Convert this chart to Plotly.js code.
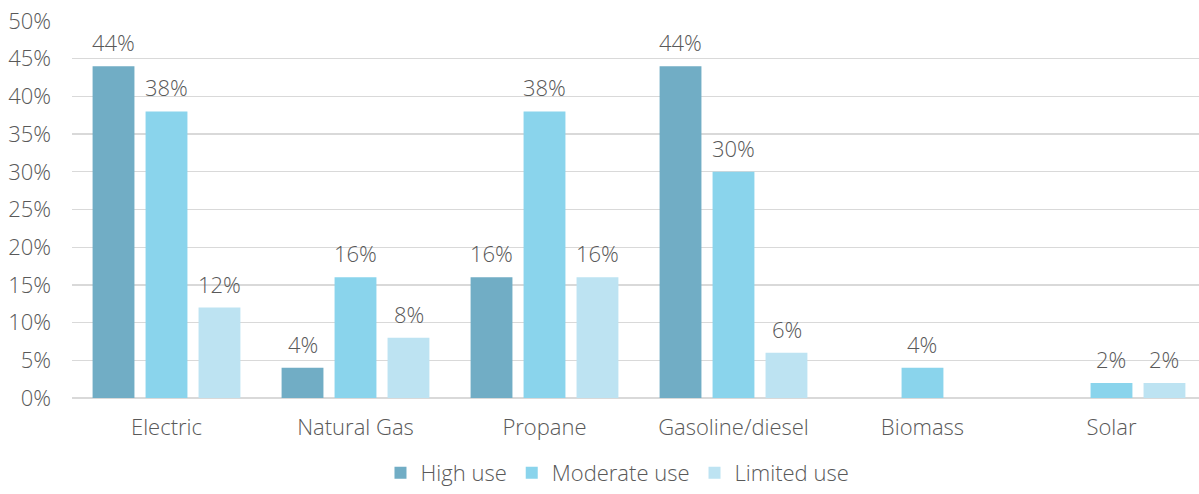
<!DOCTYPE html>
<html>
<head>
<meta charset="utf-8">
<script src="https://cdn.plot.ly/plotly-3.0.1.min.js"></script>
<style>
  html, body { margin: 0; padding: 0; background: #ffffff; }
  #chart { width: 1199px; height: 494px; }
</style>
</head>
<body>
<div id="chart"></div>
<script>
// Energy sources and the share of respondents at each level of use (%)
const categories = ['Electric', 'Natural Gas', 'Propane', 'Gasoline/diesel', 'Biomass', 'Solar'];
const highUse = [44, 4, 16, 44, 0, 0];
const moderateUse = [38, 16, 38, 30, 4, 2];
const limitedUse = [12, 8, 16, 6, 0, 2];
const seriesNames = ['High use', 'Moderate use', 'Limited use'];
const yTickValues = [0, 5, 10, 15, 20, 25, 30, 35, 40, 45, 50];
const yTickLabels = ['0%', '5%', '10%', '15%', '20%', '25%', '30%', '35%', '40%', '45%', '50%'];

const colors = ['#71adc5', '#8ad4ec', '#bde3f2'];
const textColor = '#595959';
const fontFamily = '"Open Sans", Roboto, "Liberation Sans", sans-serif';
const fontSize = 22;
const textFont = { family: fontFamily, size: fontSize, color: textColor, weight: 300 };

const seriesValues = [highUse, moderateUse, limitedUse];

const traces = seriesValues.map((vals, i) => ({
  type: 'bar',
  name: seriesNames[i],
  x: categories,
  y: vals,
  marker: { color: colors[i] },
  hoverinfo: 'skip'
}));

// Value labels above each non-zero bar, shifted to their slot in the group
const slotOffset = 53;
const annotations = [];
seriesValues.forEach((vals, i) => {
  vals.forEach((v, j) => {
    if (v > 0) {
      annotations.push({
        x: categories[j], y: v, xref: 'x', yref: 'y',
        text: v + '%', showarrow: false,
        xanchor: 'center', yanchor: 'bottom',
        xshift: (i - 1) * slotOffset, yshift: 7,
        font: textFont
      });
    }
  });
});

const layout = {
  width: 1199, height: 494,
  margin: { l: 72, r: 0, t: 21, b: 96 },
  paper_bgcolor: '#ffffff', plot_bgcolor: '#ffffff',
  barmode: 'group', bargap: 0.159, bargroupgap: 0.21,
  font: textFont,
  xaxis: {
    range: [-0.5, 5.463],
    showgrid: false, zeroline: false, showline: false,
    ticks: '', tickfont: textFont,
    ticklabelstandoff: 14,
    fixedrange: true
  },
  yaxis: {
    range: [0, 50],
    tickvals: yTickValues, ticktext: yTickLabels,
    showgrid: true, gridcolor: '#d9d9d9', gridwidth: 1.3,
    zeroline: true, zerolinecolor: '#d9d9d9', zerolinewidth: 1.3,
    showline: false, ticks: '',
    ticklabelstandoff: 20,
    tickfont: textFont,
    fixedrange: true
  },
  showlegend: true,
  legend: {
    orientation: 'h',
    xref: 'container', yref: 'container',
    x: 0.515, xanchor: 'center',
    y: 0, yanchor: 'bottom',
    font: textFont,
    itemwidth: 30,
    traceorder: 'normal'
  },
  annotations: annotations
};

Plotly.newPlot('chart', traces, layout, { displayModeBar: false, staticPlot: true });
</script>
</body>
</html>
